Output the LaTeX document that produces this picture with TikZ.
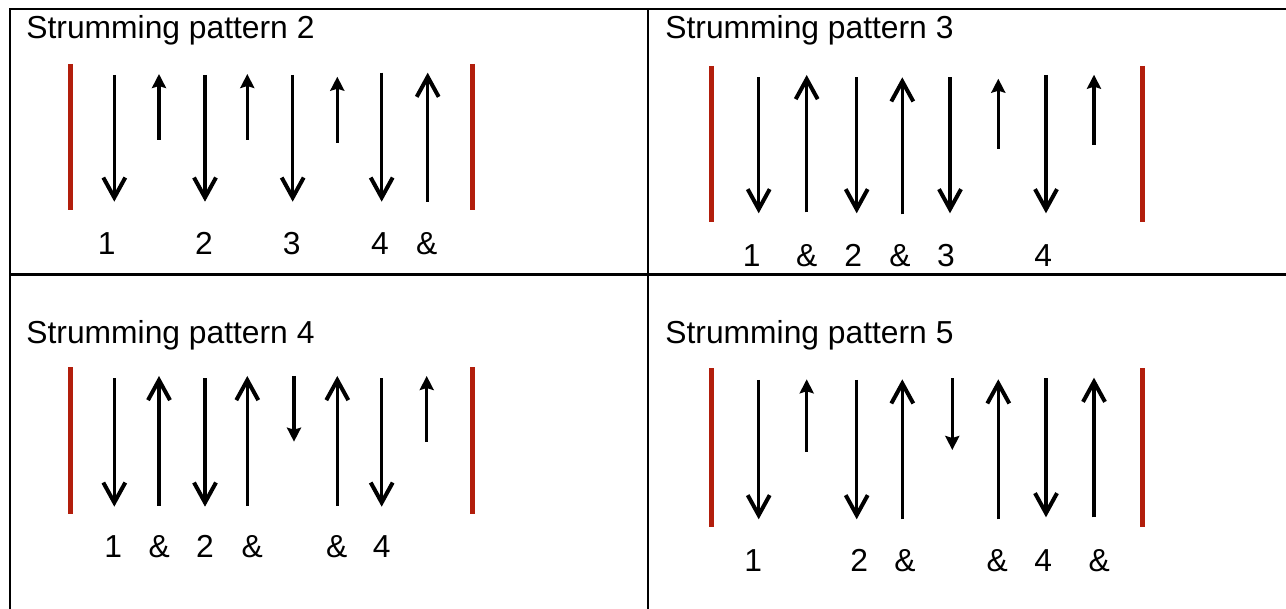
\documentclass[tikz,border=0pt]{standalone}
\usepackage{fontspec}
\setmainfont{Liberation Sans}
\usetikzlibrary{arrows.meta}
\definecolor{barred}{RGB}{178,30,12}
\begin{document}
\begin{tikzpicture}[x=0.5pt,y=-0.5pt,
  grid/.style={line width=1.3pt},
  barline/.style={draw=barred,line width=2.5pt},
  bigstrum/.style={line width=1.7pt,-{Straight Barb[length=10pt,width=11pt,line width=2pt]}},
  smallstrum/.style={line width=1.7pt,-{Stealth[length=7pt,width=7pt,inset=1pt]}},
  lbl/.style={font=\fontsize{15.9pt}{19pt}\selectfont,inner sep=0pt,anchor=base},
  ttl/.style={font=\fontsize{15.9pt}{19pt}\selectfont,inner sep=0pt,anchor=base west}]
\useasboundingbox (0,0) rectangle (1286,609);
% table grid
\draw[grid] (1290,9) -- (10,9) -- (10,612);
\draw[grid] (648,9) -- (648,612);
\draw[grid] (10,274.5) -- (1290,274.5);
% titles
\node[ttl] (t2) at (26,38.5) {Strumming pattern 2};
\node[ttl] (t3) at (665,38.5) {Strumming pattern 3};
\node[ttl] (t4) at (26,343.5) {Strumming pattern 4};
\node[ttl] (t5) at (665,343.5) {Strumming pattern 5};
% ---------- pattern 2 ----------
\draw[barline] (70.7,64) -- (70.7,210);
\draw[barline] (472.7,64) -- (472.7,210);
\draw[bigstrum] (114.3,75) -- (114.3,201.7);
\draw[smallstrum] (159,140) -- (159,74);
\draw[bigstrum] (205,75) -- (205,201.7);
\draw[smallstrum] (247.3,140) -- (247.3,74);
\draw[bigstrum] (292.7,75) -- (292.7,201.7);
\draw[smallstrum] (337.3,142.7) -- (337.3,76.7);
\draw[bigstrum] (381.7,72.7) -- (381.7,201.7);
\draw[bigstrum] (427.7,201.7) -- (427.7,72.7);
\foreach \x/\t [count=\i] in {106.7/1,204/2,291.7/3,380/4,426.7/\&}
  \node[lbl] (pa\i) at (\x,255) {\t};
% ---------- pattern 3 ----------
\draw[barline] (711.7,66) -- (711.7,221.7);
\draw[barline] (1142.7,66) -- (1142.7,221.7);
\draw[bigstrum] (758.7,77.3) -- (758.7,213.3);
\draw[bigstrum] (806.7,212.3) -- (806.7,75);
\draw[bigstrum] (856.7,77.3) -- (856.7,213.3);
\draw[bigstrum] (902.3,214.3) -- (902.3,77.3);
\draw[bigstrum] (950,77.3) -- (950,213.3);
\draw[smallstrum] (998.3,149) -- (998.3,78.7);
\draw[bigstrum] (1046,75) -- (1046,213.3);
\draw[smallstrum] (1094,145) -- (1094,74.7);
\foreach \x/\t [count=\i] in {751.7/1,806.7/\&,853.3/2,900/\&,946/3,1043.3/4}
  \node[lbl] (pb\i) at (\x,266.7) {\t};
% ---------- pattern 4 ----------
\draw[barline] (70.7,367.3) -- (70.7,514);
\draw[barline] (472.7,367.3) -- (472.7,514);
\draw[bigstrum] (114.3,378.3) -- (114.3,506.7);
\draw[bigstrum] (159,505.7) -- (159,376);
\draw[bigstrum] (205,378.3) -- (205,506.7);
\draw[bigstrum] (247.3,505.7) -- (247.3,376);
\draw[smallstrum] (294,376) -- (294,441.7);
\draw[bigstrum] (337.3,505.7) -- (337.3,376);
\draw[bigstrum] (381.7,378.3) -- (381.7,506.7);
\draw[smallstrum] (426.7,441.7) -- (426.7,376);
\foreach \x/\t [count=\i] in {113.3/1,159.3/\&,205/2,252.3/\&,336.7/\&,381.7/4}
  \node[lbl] (pc\i) at (\x,557.3) {\t};
% ---------- pattern 5 ----------
\draw[barline] (711.7,368.3) -- (711.7,527.3);
\draw[barline] (1142.7,368.3) -- (1142.7,527.3);
\draw[bigstrum] (758.7,380) -- (758.7,519.3);
\draw[smallstrum] (806.7,451.7) -- (806.7,379.3);
\draw[bigstrum] (856.7,380) -- (856.7,519.3);
\draw[bigstrum] (902.3,519.3) -- (902.3,379.3);
\draw[smallstrum] (952.3,378.3) -- (952.3,450);
\draw[bigstrum] (998.3,519.3) -- (998.3,379.3);
\draw[bigstrum] (1046,378.3) -- (1046,517.3);
\draw[bigstrum] (1094,517.3) -- (1094,377.7);
\foreach \x/\t [count=\i] in {753.3/1,859.3/2,905/\&,997.3/\&,1043.3/4,1099.3/\&}
  \node[lbl] (pd\i) at (\x,571.7) {\t};
\end{tikzpicture}
\end{document}
